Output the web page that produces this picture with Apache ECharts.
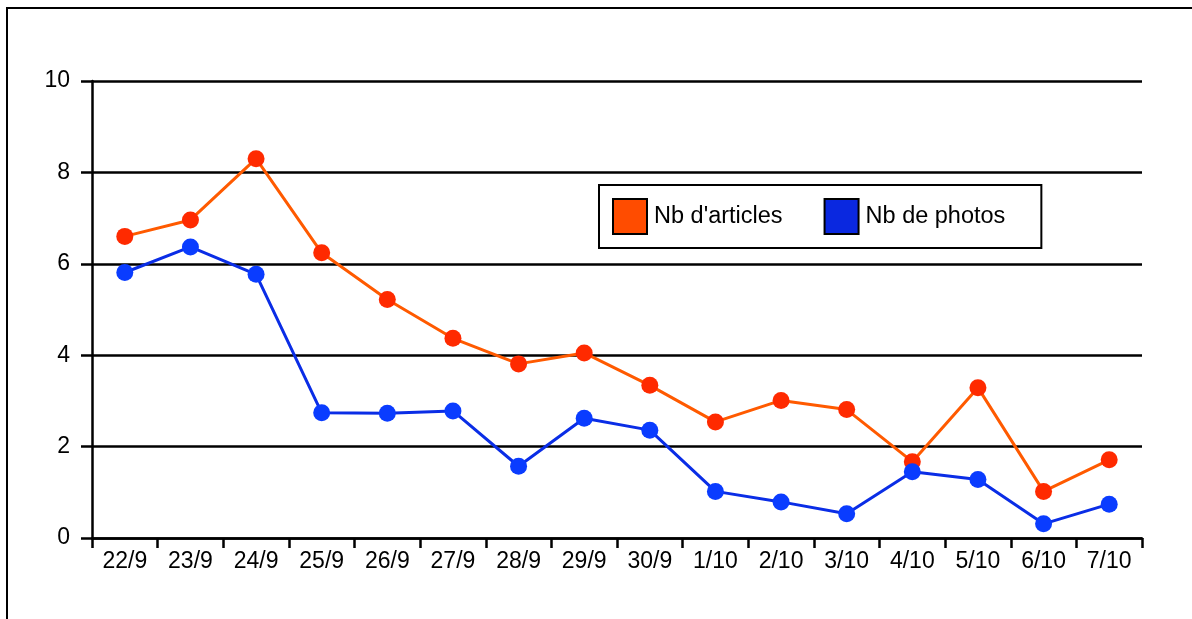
<!DOCTYPE html>
<html>
<head>
<meta charset="utf-8">
<style>
  html, body { margin: 0; padding: 0; background: #fff; }
  #chart { width: 1192px; height: 619px; }
</style>
<script src="https://cdn.jsdelivr.net/npm/echarts@6/dist/echarts.min.js"></script>
</head>
<body>
<div id="chart"></div>
<script>
// Days (22 September to 7 October)
const days = ['22/9', '23/9', '24/9', '25/9', '26/9', '27/9', '28/9', '29/9', '30/9',
              '1/10', '2/10', '3/10', '4/10', '5/10', '6/10', '7/10'];

// Number of articles per day
const articles = [6.6, 6.96, 8.3, 6.24, 5.22, 4.37, 3.81, 4.05, 3.34,
                  2.54, 3.01, 2.81, 1.67, 3.29, 1.02, 1.71];

// Number of photos per day
const photos = [5.81, 6.37, 5.77, 2.74, 2.73, 2.78, 1.57, 2.62, 2.36,
                1.02, 0.79, 0.53, 1.45, 1.28, 0.31, 0.74];

const seriesNames = ["Nb d'articles", 'Nb de photos'];

const FONT = "'Liberation Sans', Arial, Helvetica, sans-serif";

const chart = echarts.init(document.getElementById('chart'), null, { renderer: 'canvas' });

chart.setOption({
  backgroundColor: '#ffffff',
  animation: false,
  textStyle: { fontFamily: FONT },
  graphic: [{
    type: 'rect',
    shape: { x: 7, y: 8, width: 1400, height: 800 },
    style: { fill: null, stroke: '#000', lineWidth: 2 },
    silent: true,
    z: 0
  }],
  grid: { left: 92, right: 50, top: 81, bottom: 81, containLabel: false },
  legend: {
    left: 599,
    top: 185,
    orient: 'horizontal',
    icon: 'rect',
    itemWidth: 34,
    itemHeight: 35,
    itemGap: 41,
    padding: [13, 36, 13, 13],
    backgroundColor: '#fff',
    borderColor: '#000',
    borderWidth: 2,
    borderRadius: 0,
    textStyle: { fontFamily: FONT, fontSize: 23.5, color: '#000', padding: [0, 0, 0, 2] },
    data: [
      { name: seriesNames[0], itemStyle: { color: '#ff4c00', borderColor: '#000', borderWidth: 2 } },
      { name: seriesNames[1], itemStyle: { color: '#0a28e0', borderColor: '#000', borderWidth: 2 } }
    ]
  },
  xAxis: {
    type: 'category',
    data: days,
    boundaryGap: true,
    axisLine: { show: true, lineStyle: { color: '#000', width: 2.5 } },
    axisTick: { show: true, length: 10, lineStyle: { color: '#000', width: 2.5 } },
    axisLabel: { color: '#000', fontFamily: FONT, fontSize: 23, margin: 12, interval: 0 },
    splitLine: { show: false }
  },
  yAxis: {
    type: 'value',
    min: 0,
    max: 10,
    interval: 2,
    axisLine: { show: true, lineStyle: { color: '#000', width: 2.5 } },
    axisTick: { show: true, length: 11, lineStyle: { color: '#000', width: 2.5 } },
    axisLabel: { color: '#000', fontFamily: FONT, fontSize: 23, margin: 22 },
    splitLine: { show: true, lineStyle: { color: '#000', width: 2.5 } }
  },
  series: [
    {
      name: seriesNames[0],
      type: 'line',
      data: articles,
      symbol: 'circle',
      symbolSize: 17,
      lineStyle: { color: '#ff5a00', width: 3 },
      itemStyle: { color: '#ff2a00', borderWidth: 0 },
      z: 3
    },
    {
      name: seriesNames[1],
      type: 'line',
      data: photos,
      symbol: 'circle',
      symbolSize: 17,
      lineStyle: { color: '#0a2de6', width: 3 },
      itemStyle: { color: '#0a3cff', borderWidth: 0 },
      z: 4
    }
  ]
});
</script>
</body>
</html>
